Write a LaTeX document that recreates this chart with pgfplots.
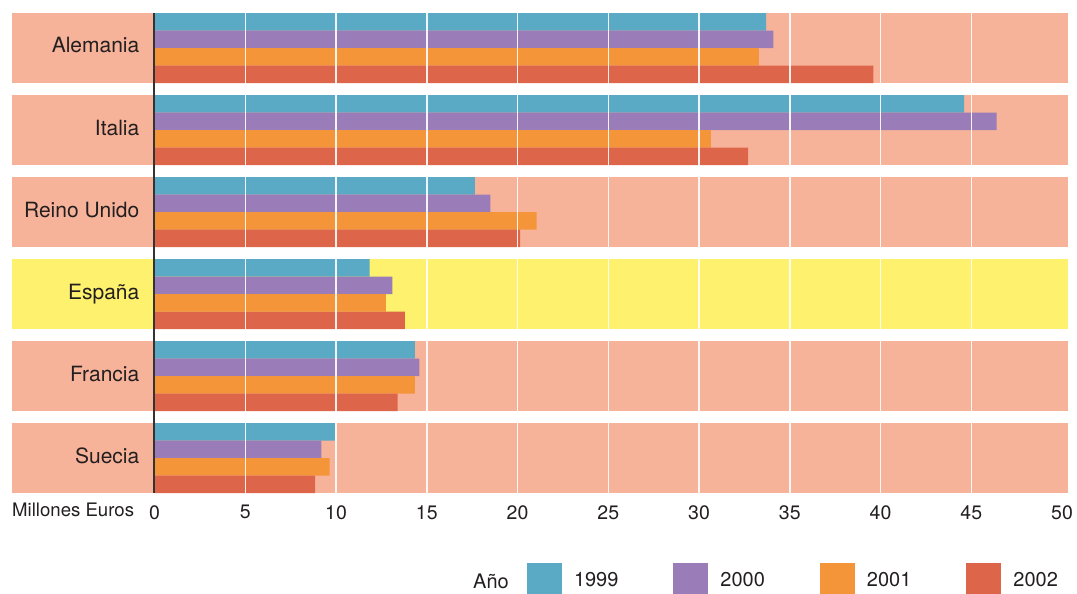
\documentclass[border=0pt]{standalone}
\usepackage{fontspec}
\setmainfont{TeX Gyre Heros}
\usepackage{pgfplots}
\pgfplotsset{compat=1.18}

\definecolor{band}{HTML}{F7B39A}
\definecolor{bandes}{HTML}{FDF16E}
\definecolor{c99}{HTML}{5AAAC5}
\definecolor{c00}{HTML}{9A7CB8}
\definecolor{c01}{HTML}{F5953A}
\definecolor{c02}{HTML}{DD654A}
\definecolor{axisc}{HTML}{333333}
\definecolor{txt}{HTML}{231F20}

% y = country index (0 = Alemania), x = millones de euros
\pgfplotstableread{
y   v
0   33.7
1   44.6
2   17.65
3   11.85
4   14.35
5   9.95
}\tA
\pgfplotstableread{
y   v
0   34.1
1   46.4
2   18.5
3   13.1
4   14.6
5   9.2
}\tB
\pgfplotstableread{
y   v
0   33.3
1   30.65
2   21.05
3   12.75
4   14.35
5   9.65
}\tC
\pgfplotstableread{
y   v
0   39.6
1   32.7
2   20.15
3   13.8
4   13.4
5   8.85
}\tD

\begin{document}
\begin{tikzpicture}
\begin{axis}[
  scale only axis, width=1056pt, height=480pt,
  xmin=-7.851, xmax=50.33,
  ymin=-0.4268, ymax=5.4268, y dir=reverse,
  axis on top,
  axis line style={draw=none}, major tick length=0pt,
  xtick={0,5,...,50}, ytick={0,...,5},
  yticklabels={Alemania,Italia,Reino Unido,España,Francia,Suecia},
  /pgf/number format/assume math mode=true,
  xticklabel style={anchor=north, inner sep=0pt, yshift=-12pt,
    font=\fontsize{19.5}{22}\selectfont, text=txt},
  yticklabel style={anchor=base east, inner sep=0pt, xshift=127.5pt, yshift=-5pt,
    font=\fontsize{21}{25}\selectfont, text=txt},
  xbar, bar width=0.21341,
  clip=false,
  legend image code/.code={\fill[#1] (0pt,-17.5pt) rectangle (35pt,17.5pt);},
  legend style={draw=none, fill=none, inner sep=0pt, outer sep=0pt,
    legend columns=4, at={(0.48769,-0.14583)}, anchor=north west,
    font=\fontsize{20}{24}\selectfont, nodes={inner sep=0pt, text=txt},
    /tikz/every odd column/.append style={column sep=12pt},
    /tikz/every even column/.append style={column sep=55pt}},
]
% background bands
\fill[band]   (axis cs:-7.851,-0.4268) rectangle (axis cs:50.33,0.4268);
\fill[band]   (axis cs:-7.851,0.5732) rectangle (axis cs:50.33,1.4268);
\fill[band]   (axis cs:-7.851,1.5732) rectangle (axis cs:50.33,2.4268);
\fill[bandes] (axis cs:-7.851,2.5732) rectangle (axis cs:50.33,3.4268);
\fill[band]   (axis cs:-7.851,3.5732) rectangle (axis cs:50.33,4.4268);
\fill[band]   (axis cs:-7.851,4.5732) rectangle (axis cs:50.33,5.4268);

\addplot[draw=none, fill=c99, bar shift=-0.32012] table[x=v, y=y] {\tA};
\addlegendentry{1999}
\addplot[draw=none, fill=c00, bar shift=-0.10671] table[x=v, y=y] {\tB};
\addlegendentry{2000}
\addplot[draw=none, fill=c01, bar shift=0.10671] table[x=v, y=y] {\tC};
\addlegendentry{2001}
\addplot[draw=none, fill=c02, bar shift=0.32012] table[x=v, y=y] {\tD};
\addlegendentry{2002}

% white grid lines over everything
\pgfplotsinvokeforeach{5,10,...,45}{
  \draw[white, opacity=0.9, line width=1.5pt] (axis cs:#1,-0.4268) -- (axis cs:#1,5.4268);
}
\draw[axisc, line width=2pt] (axis cs:0,-0.4268) -- (axis cs:0,5.4268);

\node[anchor=base west, inner sep=0pt, text=txt, font=\fontsize{18.6}{22}\selectfont]
  at (axis cs:-7.851,5.7073) {Millones Euros};
\node[anchor=base west, inner sep=0pt, text=txt, font=\fontsize{20}{24}\selectfont]
  at (axis cs:17.548,6.5854) {Año};
\end{axis}
\pgfresetboundingbox
\path (current axis.south west) ++(-12pt,-101pt) rectangle ++(1077pt,594pt);
\end{tikzpicture}
\end{document}
